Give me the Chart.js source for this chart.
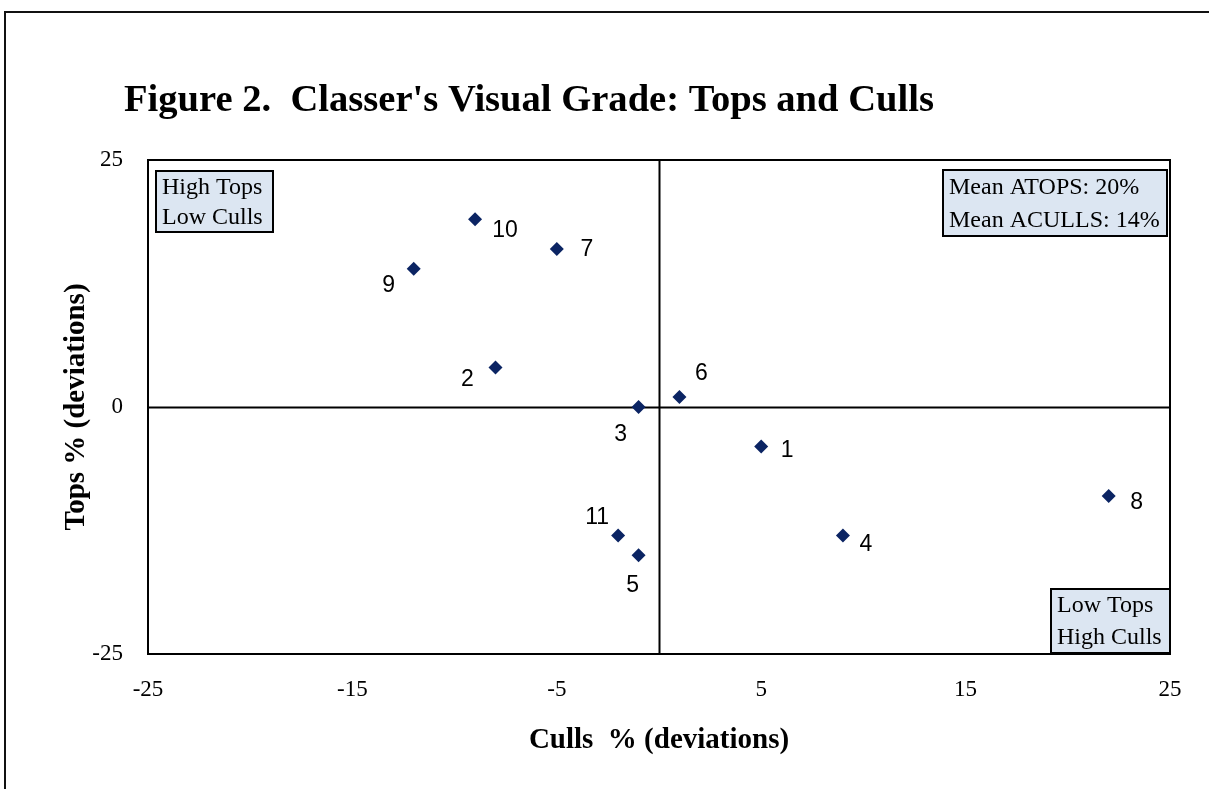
<!DOCTYPE html>
<html>
<head>
<meta charset="utf-8">
<script src="https://cdn.jsdelivr.net/npm/chart.js@4"></script>
<style>
  body { margin: 0; background: #fff; }
  #wrap { width: 1209px; height: 789px; }
</style>
</head>
<body>
<div id="wrap"><canvas id="gradeChart" width="1209" height="789"></canvas></div>
<script>
// Classer's visual grade data (deviations from the mean)
const growerIds = ['1', '2', '3', '4', '5', '6', '7', '8', '9', '10', '11'];
const cullsDev = [5, -8, -1, 9, -1, 1, -5, 22, -12, -9, -2];
const topsDev = [-4, 4, 0, -13, -15, 1, 16, -9, 14, 19, -13];

const axisMin = -25;
const axisMax = 25;
const xStep = 10;
const yStep = 25;

const serif = '"Liberation Serif", "Times New Roman", serif';
const sans = '"Liberation Sans", Arial, sans-serif';
const markerColor = '#0b2463';

// where each number sits relative to its point
const labelOffsets = {
    '1': [26, 4], '2': [-28, 12], '3': [-18, 28], '4': [23, 9],
    '5': [-6, 30], '6': [22, -23], '7': [30, 1], '8': [28, 7],
    '9': [-25, 17], '10': [30, 11], '11': [-21, -18]
};

// Quadrant notes
const noteBoxes = [
    { lines: ['High Tops', 'Low Culls'], x: 156, y: 171, w: 117, h: 61 },
    { lines: ['Mean ATOPS: 20%', 'Mean ACULLS: 14%'], x: 943, y: 170, w: 224, h: 66 },
    { lines: ['Low Tops', 'High Culls'], x: 1051, y: 589, w: 119, h: 64 }
];

const framePlugin = {
    id: 'frame',
    beforeDraw(chart) {
        const ctx = chart.ctx;
        ctx.save();
        ctx.fillStyle = '#fff';
        ctx.fillRect(0, 0, chart.width, chart.height);
        ctx.strokeStyle = '#111';
        ctx.lineWidth = 2;
        ctx.strokeRect(5, 12, chart.width + 20, chart.height + 20);

        // title
        ctx.fillStyle = '#000';
        ctx.font = 'bold 38.6px ' + serif;
        ctx.textAlign = 'left';
        ctx.textBaseline = 'middle';
        ctx.fillText("Figure 2.  Classer's Visual Grade: Tops and Culls", 124, 101);
        ctx.restore();
    },
    beforeDatasetsDraw(chart) {
        const { ctx, chartArea: a, scales } = chart;
        const x0 = Math.round(scales.x.getPixelForValue(0)) + 0.5;
        const y0 = Math.round(scales.y.getPixelForValue(0)) + 0.5;
        ctx.save();
        ctx.strokeStyle = '#000';
        ctx.lineWidth = 2;
        ctx.strokeRect(a.left, a.top, a.right - a.left, a.bottom - a.top);
        ctx.beginPath();
        ctx.moveTo(x0, a.top);
        ctx.lineTo(x0, a.bottom);
        ctx.moveTo(a.left, y0);
        ctx.lineTo(a.right, y0);
        ctx.stroke();
        ctx.restore();
    },
    afterDatasetsDraw(chart) {
        const ctx = chart.ctx;
        const meta = chart.getDatasetMeta(0);
        ctx.save();
        ctx.fillStyle = '#000';
        ctx.font = '23px ' + sans;
        ctx.textAlign = 'center';
        ctx.textBaseline = 'middle';
        meta.data.forEach((pt, i) => {
            const id = growerIds[i];
            const off = labelOffsets[id];
            ctx.fillText(id, pt.x + off[0], pt.y + off[1]);
        });

        ctx.font = '24px ' + serif;
        ctx.textAlign = 'left';
        noteBoxes.forEach(b => {
            ctx.fillStyle = '#dce6f2';
            ctx.fillRect(b.x, b.y, b.w, b.h);
            ctx.strokeStyle = '#000';
            ctx.lineWidth = 2;
            ctx.strokeRect(b.x, b.y, b.w, b.h);
            ctx.fillStyle = '#000';
            const lh = b.h / 2;
            b.lines.forEach((t, j) => {
                ctx.fillText(t, b.x + 6, b.y + lh * j + lh / 2 + 1);
            });
        });
        ctx.restore();
    }
};

const ctx = document.getElementById('gradeChart').getContext('2d');
const gradeChart = new Chart(ctx, {
    type: 'scatter',
    data: {
        datasets: [{
            label: 'Growers',
            data: cullsDev.map((c, i) => ({ x: c, y: topsDev[i] })),
            pointStyle: 'rectRot',
            pointRadius: 7,
            pointHoverRadius: 7,
            backgroundColor: markerColor,
            borderColor: markerColor,
            borderWidth: 0
        }]
    },
    options: {
        responsive: false,
        animation: false,
        layout: { padding: { top: 160, right: 39, bottom: 0, left: 0 } },
        plugins: {
            legend: { display: false },
            tooltip: { enabled: false }
        },
        scales: {
            x: {
                type: 'linear',
                min: axisMin,
                max: axisMax,
                grid: { display: false, drawTicks: false },
                border: { display: false },
                ticks: {
                    stepSize: xStep,
                    padding: 22,
                    color: '#000',
                    font: { family: serif, size: 23 }
                },
                title: {
                    display: true,
                    text: 'Culls  % (deviations)',
                    color: '#000',
                    font: { family: serif, size: 29, weight: 'bold' },
                    padding: { top: 0, bottom: 31 }
                },
                afterFit(scale) { scale.height = 135; }
            },
            y: {
                type: 'linear',
                min: axisMin,
                max: axisMax,
                grid: { display: false, drawTicks: false },
                border: { display: false },
                ticks: {
                    stepSize: yStep,
                    padding: 25,
                    color: '#000',
                    font: { family: serif, size: 23 }
                },
                title: {
                    display: true,
                    text: 'Tops % (deviations)',
                    color: '#000',
                    font: { family: serif, size: 29, weight: 'bold' },
                    padding: { top: 59, bottom: 0 }
                },
                afterFit(scale) { scale.width = 148; }
            }
        }
    },
    plugins: [framePlugin]
});
</script>
</body>
</html>
